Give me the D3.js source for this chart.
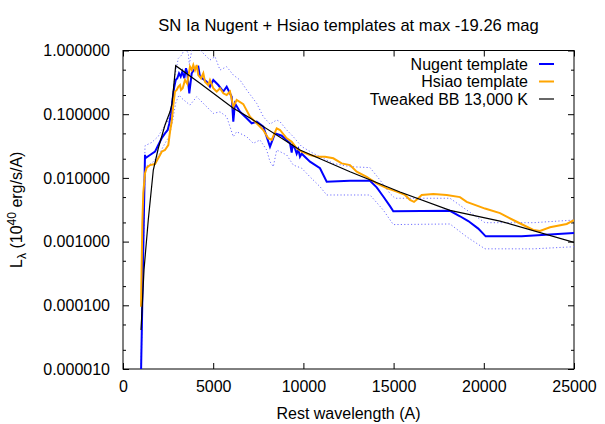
<!DOCTYPE html>
<html><head><meta charset="utf-8">
<script src="https://cdn.jsdelivr.net/npm/d3@7"></script>
<style>body{margin:0;background:#fff}svg{display:block}text{font-family:"Liberation Sans",Arial,sans-serif}</style>
</head><body><div id="chart"></div>
<script>
const nugentWave = [1000,1219,1250,1497,1774,1957,2145,2328,2478,2566,2661,2755,2844,2921,3010,3104,3198,3287,3398,3492,3564,3675,3808,3991,4174,4268,4640,4822,5005,5282,5560,5748,6025,6114,6208,6485,6857,7134,7411,7777,8148,8425,8797,9074,9257,9351,9400,9534,9628,9720,9811,9905,10365,10920,11291,12583,13691,14063,14428,14800,14983,18126,18680,19139,19694,20105,22100,25000];
const nugentL    = [9e-6,0.023,0.0205,0.0229,0.0258,0.0328,0.0419,0.0501,0.0565,0.0715,0.103,0.178,0.27,0.344,0.366,0.439,0.388,0.465,0.366,0.526,0.44,0.213,0.439,0.526,0.557,0.388,0.324,0.27,0.344,0.287,0.226,0.27,0.188,0.0762,0.148,0.109,0.0863,0.0719,0.0762,0.0637,0.0309,0.0501,0.046,0.0389,0.0349,0.025,0.033,0.029,0.024,0.028,0.0215,0.024,0.018,0.0142,0.00871,0.00904,0.00904,0.0071,0.0051,0.0036,0.003,0.00304,0.0025,0.0021,0.0016,0.00121,0.00121,0.00136];

const upperWave = [1000,1219,1591,1957,2145,2511,2699,2882,3065,3254,3437,3620,3675,3808,3991,4268,4822,5100,5377,5748,6114,6485,6857,7411,7777,8148,8520,8703,9074,9440,9905,10548,11103,11657,12583,13691,14245,14800,15077,18126,19051,20066,22743,25000];
const upperL    = [1.2e-5,0.032,0.036,0.045,0.056,0.08,0.14,0.41,0.75,0.85,1.1,0.9,0.6,1.0,1.375,1.02,0.709,0.8,0.494,0.557,0.412,0.344,0.24,0.148,0.0914,0.07,0.0811,0.0762,0.0565,0.0443,0.031,0.0243,0.0203,0.0169,0.015,0.0145,0.00927,0.0057,0.00479,0.00479,0.00313,0.00198,0.00198,0.00218];

const lowerWave = [1000,1219,1591,1957,2328,2566,2755,2921,3104,3254,3714,4085,4451,5005,5377,5748,6114,6302,6857,7223,7594,7965,8148,8331,8520,9074,9440,9905,10365,10920,11291,13691,14428,14983,18126,19051,20066,22743,25000];
const lowerL    = [7e-6,0.015,0.017,0.022,0.035,0.045,0.08,0.15,0.2,0.178,0.139,0.188,0.148,0.103,0.109,0.0914,0.0443,0.0531,0.0443,0.0349,0.0394,0.0274,0.018,0.015,0.0274,0.0229,0.0159,0.0142,0.0104,0.00728,0.00539,0.00539,0.00313,0.00185,0.00189,0.00119,0.00077,0.00077,0.00083];

const hsiaoWave = [1000,1070,1125,1219,1314,1497,1774,2051,2145,2328,2511,2605,2699,2788,2882,2977,3065,3159,3214,3309,3437,3564,3620,3714,3808,3897,3991,4085,4174,4324,4451,4545,4728,4822,5005,5194,5377,5560,5748,5931,6114,6302,6668,7040,7411,7777,8054,8242,8520,8703,9074,9351,9628,9905,10365,10737,11197,11657,12122,12583,12954,13508,14063,14616,15171,15632,15909,16131,16369,16557,17200,17943,18680,19051,19694,20066,20898,21823,22743,23115,23669,24595,25000];
const hsiaoL    = [9.5e-5,0.0019,0.0058,0.0118,0.0145,0.0159,0.0165,0.0229,0.0258,0.0274,0.0328,0.053,0.0762,0.139,0.226,0.24,0.27,0.287,0.24,0.255,0.344,0.3,0.388,0.557,0.494,0.592,0.494,0.592,0.412,0.366,0.439,0.324,0.287,0.344,0.255,0.226,0.255,0.213,0.2,0.226,0.131,0.167,0.144,0.0914,0.0719,0.0565,0.0419,0.0394,0.0601,0.0565,0.0419,0.037,0.0292,0.0258,0.0229,0.0215,0.0215,0.0203,0.0169,0.0159,0.0125,0.0104,0.0082,0.0069,0.0061,0.0054,0.0045,0.0042,0.0048,0.0054,0.0056,0.0054,0.005,0.0042,0.0036,0.0033,0.0028,0.00205,0.00152,0.00147,0.00168,0.00189,0.00218];

const bbWave = [1000,1164,1402,1680,1957,2328,2605,2716,2921,4268,6097,7040,9811,12583,15355,18126,20898,25000];
const bbL    = [4.1e-5,3.6e-4,2.2e-3,0.0133,0.0292,0.0677,0.109,0.145,0.577,0.305,0.125,0.087,0.0274,0.0125,0.006,0.0031,0.0021,0.000975];

const xTicks = [0,5000,10000,15000,20000,25000];
const yTicks = [1e-5,1e-4,1e-3,1e-2,1e-1,1];
const yTickLabels = ["0.000010","0.000100","0.001000","0.010000","0.100000","1.000000"];
const legendLabels = ["Nugent template","Hsiao template","Tweaked BB 13,000 K"];
const title = "SN Ia Nugent + Hsiao templates at max -19.26 mag";

const W=605,H=424, L=123, R=574, T=50.5, B=369;
const svg=d3.select("#chart").append("svg").attr("width",W).attr("height",H);
const x=d3.scaleLinear().domain([0,25000]).range([L,R]);
const y=d3.scaleLog().domain([1e-5,1]).range([B,T]);

svg.append("defs").append("clipPath").attr("id","clip").append("rect")
  .attr("x",L).attr("y",T).attr("width",R-L).attr("height",B-T);

// minor ticks at 2 and 5 per decade
const minor=[];
for(let e=-5;e<0;e++){minor.push(2*Math.pow(10,e));minor.push(5*Math.pow(10,e));}

const fs=16;
const gL=svg.append("g").attr("transform",`translate(${L},0)`).call(d3.axisLeft(y).tickValues(yTicks).tickFormat((d,i)=>yTickLabels[i]).tickSizeInner(-6).tickSizeOuter(0).tickPadding(13));
const gLm=svg.append("g").attr("transform",`translate(${L},0)`).call(d3.axisLeft(y).tickValues(minor).tickFormat("").tickSizeInner(-3).tickSizeOuter(0));
const gR=svg.append("g").attr("transform",`translate(${R},0)`).call(d3.axisRight(y).tickValues(yTicks).tickFormat("").tickSizeInner(-6).tickSizeOuter(0));
const gRm=svg.append("g").attr("transform",`translate(${R},0)`).call(d3.axisRight(y).tickValues(minor).tickFormat("").tickSizeInner(-3).tickSizeOuter(0));
const gB=svg.append("g").attr("transform",`translate(0,${B})`).call(d3.axisBottom(x).tickValues(xTicks).tickFormat(d3.format("d")).tickSizeInner(-6).tickSizeOuter(0).tickPadding(12));
const gT=svg.append("g").attr("transform",`translate(0,${T})`).call(d3.axisTop(x).tickValues(xTicks).tickFormat("").tickSizeInner(-6).tickSizeOuter(0));
[gL,gLm,gR,gRm,gB,gT].forEach(g=>{g.select(".domain").remove();g.selectAll("line").attr("stroke","#000");
  g.selectAll("text").attr("font-size",fs).attr("font-family","Liberation Sans, Arial, sans-serif").attr("fill","#000");});
gB.selectAll("text").attr("dy","0.71em");

svg.append("rect").attr("x",L).attr("y",T).attr("width",R-L).attr("height",B-T)
  .attr("fill","none").attr("stroke","#000").attr("stroke-width",1);

const line=d3.line().x(d=>x(d[0])).y(d=>y(d[1]));
const zip=(a,b)=>a.map((v,i)=>[v,b[i]]);
const plot=svg.append("g").attr("clip-path","url(#clip)");
plot.append("path").datum(zip(upperWave,upperL)).attr("d",line).attr("fill","none").attr("stroke","#6f6fff").attr("stroke-width",1).attr("stroke-dasharray","1.2,2.2");
plot.append("path").datum(zip(lowerWave,lowerL)).attr("d",line).attr("fill","none").attr("stroke","#6f6fff").attr("stroke-width",1).attr("stroke-dasharray","1.2,2.2");
plot.append("path").datum(zip(nugentWave,nugentL)).attr("d",line).attr("fill","none").attr("stroke","#0000ff").attr("stroke-width",2);
plot.append("path").datum(zip(hsiaoWave,hsiaoL)).attr("d",line).attr("fill","none").attr("stroke","#ffa500").attr("stroke-width",2);
plot.append("path").datum(zip(bbWave,bbL)).attr("d",line).attr("fill","none").attr("stroke","#000").attr("stroke-width",1.2);

const legColors=["#0000ff","#ffa500","#000"];
const legW=[2,2,1.2];
legendLabels.forEach((t,i)=>{
  const yy=64+i*17.5;
  svg.append("text").attr("x",528).attr("y",yy).attr("dy","0.35em").attr("text-anchor","end").attr("font-size",fs).text(t);
  svg.append("line").attr("x1",539).attr("x2",554).attr("y1",yy).attr("y2",yy).attr("stroke",legColors[i]).attr("stroke-width",legW[i]);
});

svg.append("text").attr("x",(L+R)/2).attr("y",25).attr("dy","0.35em").attr("text-anchor","middle").attr("font-size",16.6).text(title);
svg.append("text").attr("x",(L+R)/2).attr("y",413).attr("dy","0.35em").attr("text-anchor","middle").attr("font-size",fs).text("Rest wavelength (A)");

const yl=svg.append("text").attr("transform",`translate(22,${(T+B)/2}) rotate(-90)`).attr("text-anchor","middle").attr("font-size",fs);
yl.append("tspan").text("L");
yl.append("tspan").attr("dy",4).attr("font-size",12).text("λ");
yl.append("tspan").attr("dy",-4).text(" (10");
yl.append("tspan").attr("dy",-6).attr("font-size",12).text("40");
yl.append("tspan").attr("dy",6).text(" erg/s/A)");
</script></body></html>
